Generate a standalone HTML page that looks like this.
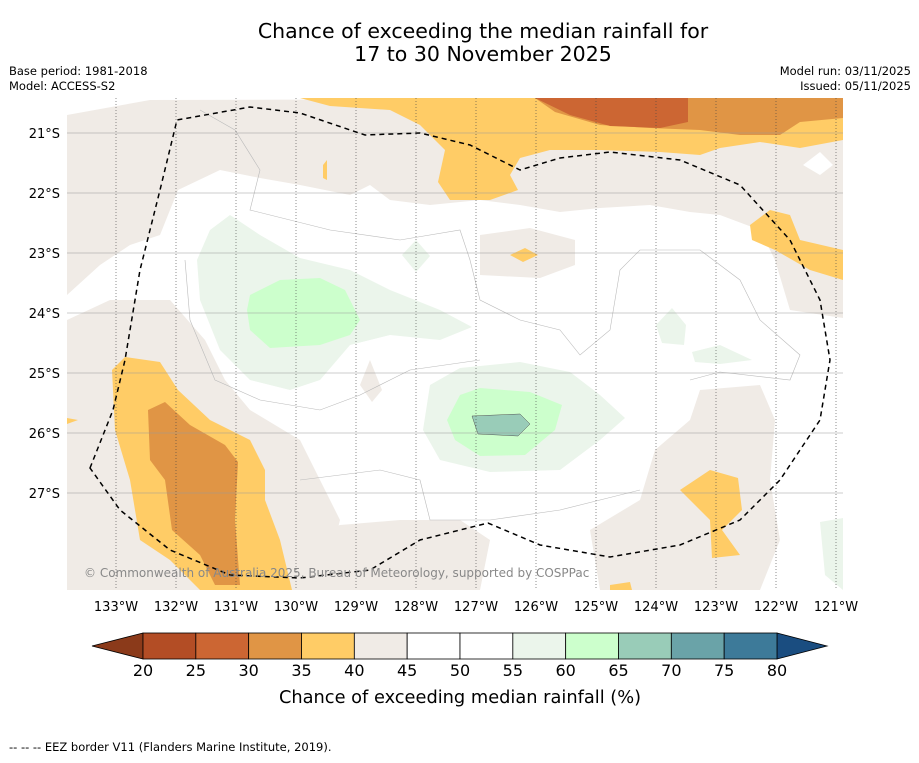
<!DOCTYPE html>
<html><head><meta charset="utf-8"><style>
body{margin:0;background:#fff;font-family:"Liberation Sans","DejaVu Sans",sans-serif;}
svg text{font-family:"DejaVu Sans","Liberation Sans",sans-serif;}
</style></head><body>
<svg width="919" height="758" xmlns="http://www.w3.org/2000/svg">
<text x="483" y="38" font-size="20.5" text-anchor="middle">Chance of exceeding the median rainfall for</text>
<text x="483" y="61" font-size="20.5" text-anchor="middle">17 to 30 November 2025</text>
<text x="9" y="75" font-size="11.5">Base period: 1981-2018</text>
<text x="9" y="90" font-size="11.5">Model: ACCESS-S2</text>
<text x="911" y="75" font-size="11.5" text-anchor="end">Model run: 03/11/2025</text>
<text x="911" y="90" font-size="11.5" text-anchor="end">Issued: 05/11/2025</text>

<defs><clipPath id="mc"><rect x="67" y="98" width="776" height="492"/></clipPath></defs>
<g clip-path="url(#mc)">
<rect x="67" y="98" width="776" height="492" fill="#fff"/>
<g fill="#f0ebe6">
<path d="M67,115 L150,100 L843,98 L843,318 L790,310 L775,260 L760,230 L720,215 L690,212 L650,205 L600,208 L560,212 L520,205 L480,200 L430,205 L390,200 L370,185 L350,195 L300,185 L260,178 L220,170 L178,190 L160,235 L130,245 L100,265 L67,295 Z"/>
<path d="M67,320 L110,300 L170,300 L205,340 L225,380 L250,410 L300,440 L320,480 L340,520 L330,560 L300,590 L67,590 Z"/>
<path d="M300,540 L340,525 L400,520 L460,520 L490,540 L480,590 L300,590 Z"/>
<path d="M590,530 L640,500 L655,450 L690,420 L700,390 L760,385 L775,420 L770,480 L780,540 L760,590 L600,590 Z"/>
<path d="M480,235 L530,228 L575,240 L575,265 L540,278 L480,275 Z"/>
<path d="M370,360 L382,390 L372,402 L360,385 Z"/>
</g>
<g fill="#ffcc66">
<path d="M300,98 L843,98 L843,140 L800,148 L760,142 L720,148 L700,155 L660,152 L600,150 L550,150 L520,158 L510,175 L518,190 L490,200 L450,200 L438,182 L445,150 L420,125 L390,110 L330,106 Z"/>
<path d="M750,225 L770,210 L790,215 L800,240 L843,250 L843,280 L810,270 L775,250 L752,240 Z"/>
<path d="M112,370 L125,357 L160,362 L178,390 L210,420 L250,440 L265,470 L265,500 L280,540 L292,590 L200,590 L170,560 L140,540 L130,480 L115,430 Z"/>
<path d="M680,490 L710,470 L738,478 L742,510 L722,530 L740,555 L712,558 L710,520 Z"/>
<path d="M510,255 L525,248 L538,255 L523,262 Z"/>
<path d="M323,165 L327,160 L327,180 L323,178 Z"/>
<path d="M610,585 L630,582 L632,590 L610,590 Z"/>
<path d="M67,418 L78,420 L67,424 Z"/>
</g>
<g fill="#e09545">
<path d="M535,98 L843,98 L843,118 L800,122 L780,135 L740,135 L700,130 L650,128 L600,125 L555,112 Z"/>
<path d="M148,410 L165,402 L190,425 L225,445 L238,462 L235,520 L240,585 L215,585 L200,555 L172,530 L165,480 L150,460 Z"/>
</g>
<path d="M535,98 L688,98 L688,122 L660,128 L610,126 L570,115 Z" fill="#cc6633"/>
<g>
<path d="M210,230 L230,215 L260,235 L300,258 L350,270 L390,290 L440,310 L472,327 L440,340 L390,335 L350,345 L320,380 L290,390 L250,380 L220,350 L200,300 L197,260 Z" fill="#ebf5eb"/>
<path d="M250,295 L280,280 L320,278 L345,290 L360,320 L350,335 L320,345 L270,348 L250,330 L247,310 Z" fill="#ccffcc"/>
<path d="M430,385 L460,368 L520,362 L570,372 L600,395 L625,418 L600,440 L560,470 L490,472 L440,460 L423,430 Z" fill="#ebf5eb"/>
<path d="M460,395 L480,388 L530,392 L562,405 L555,430 L525,455 L480,456 L455,440 L447,420 Z" fill="#ccffcc"/>
<path d="M472,416 L520,414 L530,424 L518,436 L478,434 Z" fill="#99ccb8" stroke="#555" stroke-width="0.5"/>
<path d="M402,255 L416,240 L430,256 L416,272 Z" fill="#ebf5eb"/>
<path d="M656,325 L672,308 L686,325 L684,345 L662,343 Z" fill="#ebf5eb"/>
<path d="M692,352 L720,345 L752,360 L720,364 L695,362 Z" fill="#ebf5eb"/>
<path d="M820,522 L843,518 L843,590 L825,575 Z" fill="#ebf5eb"/>
</g>
<path d="M803,165 L820,152 L833,165 L820,175 Z" fill="#fff"/>
<g fill="none" stroke="#bbb" stroke-width="0.6">
<path d="M200,110 L235,130 L260,170 L250,210 L330,230 L400,240 L460,230 L470,260 L480,300 L520,320 L560,330 L580,355 L610,330 L620,270 L640,250 L700,250 L740,280 L760,320 L800,355 L790,380 L720,372 L690,380"/>
<path d="M185,260 L190,320 L215,380 L260,400 L320,410 L360,395 L410,370 L480,360"/>
<path d="M300,480 L380,470 L420,480 L430,520 L490,520 L560,510 L600,500 L640,490"/>
</g>
<g id="grid"></g>
<path fill="none" stroke="#000" stroke-width="1.5" stroke-dasharray="5,4" d="M90,468 L113,410 L125,360 L140,270 L160,190 L177,120 L250,107 L300,113 L365,135 L420,133 L470,145 L520,170 L560,158 L610,152 L680,160 L740,185 L790,240 L820,300 L830,360 L820,420 L780,480 L740,520 L680,545 L610,557 L540,545 L488,523 L420,540 L370,570 L300,578 L230,575 L170,550 L120,510 Z"/>
<text x="84" y="577" font-size="12" fill="#888">© Commonwealth of Australia 2025, Bureau of Meteorology, supported by COSPPac</text>
</g>
<g id="axes"></g>
<g id="cbar"></g>
<text x="460" y="703" font-size="17.8" text-anchor="middle">Chance of exceeding median rainfall (%)</text>
<text x="9" y="751" font-size="11.5">--  --  -- EEZ border V11 (Flanders Marine Institute, 2019).</text>
</svg>
<script>
const lonTicks=[133,132,131,130,129,128,127,126,125,124,123,122,121];
const latTicks=[21,22,23,24,25,26,27];
const cbLevels=[20,25,30,35,40,45,50,55,60,65,70,75,80];
const cbColors=["#b34d25","#cc6633","#e09545","#ffcc66","#f0ebe6","#ffffff","#ffffff","#ebf5eb","#ccffcc","#99ccb8","#6aa3a8","#3d7a99"];
const cbUnder="#8b3a1a", cbOver="#1a4d80";
const NS="http://www.w3.org/2000/svg";
function xLon(l){return 116+(133-l)*60;}
function yLat(l){return 133+(l-21)*60;}
function xCb(v){return 143+(v-20)*(634/60);}
function mk(t,a,p){const e=document.createElementNS(NS,t);for(const k in a)e.setAttribute(k,a[k]);p.appendChild(e);return e;}
const grid=document.getElementById('grid'), axes=document.getElementById('axes'), cb=document.getElementById('cbar');
lonTicks.forEach(l=>{const x=xLon(l);
 const g=mk('line',{x1:x,x2:x,y1:98,y2:590,stroke:'#444','stroke-width':0.6,'stroke-dasharray':'1,2'},grid);
 
 
 const t=mk('text',{x:x,y:611,'font-size':13,'text-anchor':'middle'},axes);t.textContent=l+'°W';
 
 
});
latTicks.forEach(l=>{const y=yLat(l);
 const g=mk('line',{x1:67,x2:843,y1:y,y2:y,stroke:'#999','stroke-width':0.5},grid);
 
 
 const t=mk('text',{x:60,y:y+5,'font-size':13,'text-anchor':'end'},axes);t.textContent=l+'°S';
 
 
});
const y0=633,y1=659;
const u=mk('polygon',{points:`92,${(y0+y1)/2} ${xCb(20)},${y0} ${xCb(20)},${y1}`,fill:cbUnder,stroke:'#000','stroke-width':0.8},cb);


const o=mk('polygon',{points:`827,${(y0+y1)/2} ${xCb(80)},${y0} ${xCb(80)},${y1}`,fill:cbOver,stroke:'#000','stroke-width':0.8},cb);


cbColors.forEach((c,i)=>{const a=xCb(cbLevels[i]),b=xCb(cbLevels[i+1]);
 const r=mk('rect',{x:a,y:y0,width:b-a,height:y1-y0,fill:c,stroke:'#000','stroke-width':0.8},cb);
 
 
});
cbLevels.forEach(v=>{const t=mk('text',{x:xCb(v),y:676,'font-size':16,'text-anchor':'middle'},cb);t.textContent=v;
 
 
});
</script>
</body></html>
